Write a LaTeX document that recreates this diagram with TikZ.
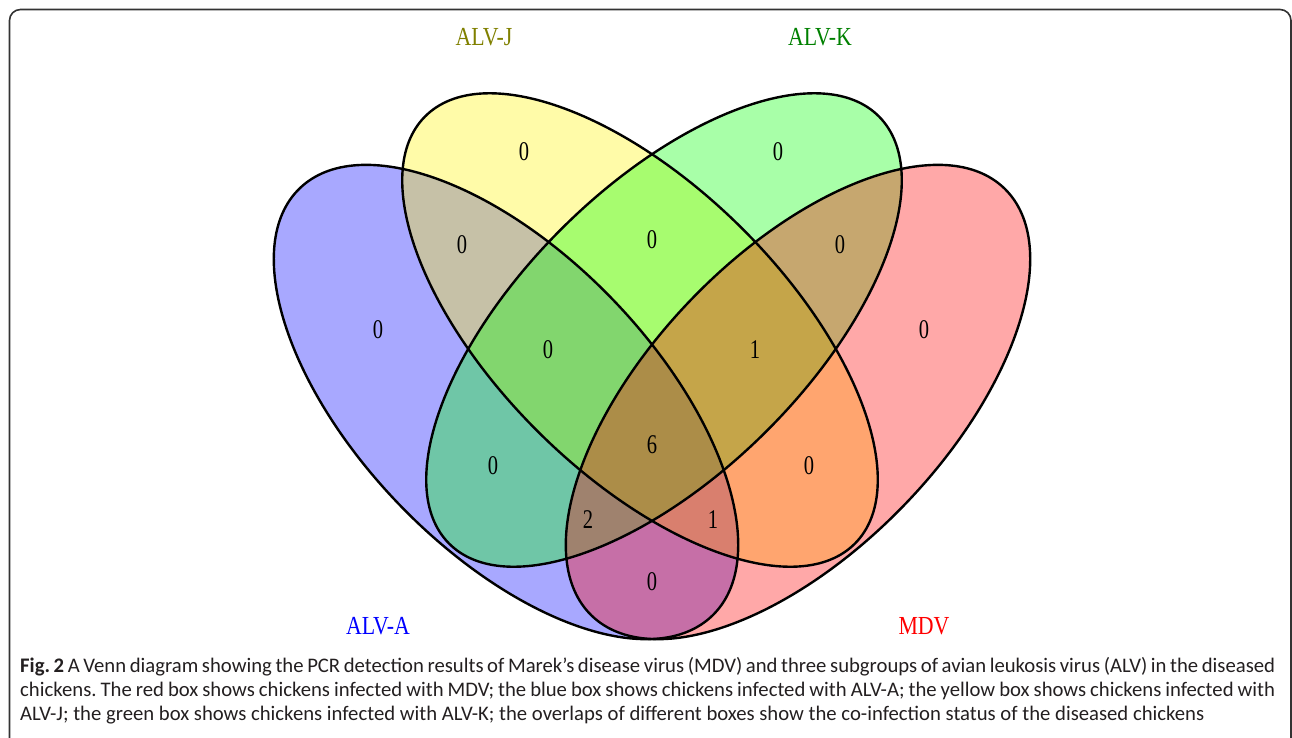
\documentclass[tikz,border=0pt]{standalone}
\usepackage{fontspec}
\setmainfont{Liberation Serif}
\newfontfamily\capfont{Carlito}
\definecolor{capink}{RGB}{35,31,32}
\definecolor{olivelab}{RGB}{128,128,0}
\definecolor{greenlab}{RGB}{0,128,0}
\tikzset{
  setfill/.style={fill opacity=0.34, draw=none},
  setline/.style={draw=black, line width=2.4pt, fill=none},
  num/.style={font=\fontsize{27}{27}\selectfont, inner sep=0pt, xscale=0.76},
  setlabel/.style={font=\fontsize{26}{26}\selectfont, inner sep=0pt, xscale=0.84},
  capline/.style={anchor=base west, inner sep=0pt, font=\capfont\fontsize{20.7}{24}\selectfont, text=capink},
}
\frenchspacing
\begin{document}
\begin{tikzpicture}[x=1pt,y=-1pt]
\useasboundingbox (0,0) rectangle (1292,737);
\begin{scope}
\clip (0,0) rectangle (1292,737);
\draw[line width=1.6pt, draw=black!80, rounded corners=11pt] (9.5,9.5) rectangle (1291,790);
\end{scope}
% fills
\fill[setfill, fill=blue, rotate around={-46:(506,402)}] (506,402) ellipse [x radius=297pt, y radius=148pt];
\fill[setfill, fill=yellow, rotate around={-44.8:(640,330)}] (640,330) ellipse [x radius=303pt, y radius=144pt];
\fill[setfill, fill=green, rotate around={44.8:(664,330)}] (664,330) ellipse [x radius=303pt, y radius=144pt];
\fill[setfill, fill=red, rotate around={46:(798,402)}] (798,402) ellipse [x radius=297pt, y radius=148pt];
% outlines
\draw[setline, rotate around={-46:(506,402)}] (506,402) ellipse [x radius=297pt, y radius=148pt];
\draw[setline, rotate around={-44.8:(640,330)}] (640,330) ellipse [x radius=303pt, y radius=144pt];
\draw[setline, rotate around={44.8:(664,330)}] (664,330) ellipse [x radius=303pt, y radius=144pt];
\draw[setline, rotate around={46:(798,402)}] (798,402) ellipse [x radius=297pt, y radius=148pt];
% set labels
\node[setlabel, text=olivelab] (lj) at (484,37) {ALV-J};
\node[setlabel, text=greenlab] (lk) at (820,37) {ALV-K};
\node[setlabel, text=blue] (la) at (378,626) {ALV-A};
\node[setlabel, text=red] (lm) at (924,626) {MDV};
% counts
\node[num] (n1) at (524,152) {0};
\node[num] (n2) at (778,152) {0};
\node[num] (n3) at (462,245) {0};
\node[num] (n4) at (652,240) {0};
\node[num] (n5) at (840,245) {0};
\node[num] (n6) at (378,330) {0};
\node[num] (n7) at (924,330) {0};
\node[num] (n8) at (548,350) {0};
\node[num] (n9) at (755,350) {1};
\node[num] (n10) at (652,445) {6};
\node[num] (n11) at (493,466) {0};
\node[num] (n12) at (809,466) {0};
\node[num] (n13) at (588,520) {2};
\node[num] (n14) at (713,520) {1};
\node[num] (n15) at (652,582) {0};
% caption
\node[capline] (c1) at (20,672) {\makebox[1255pt][s]{\textbf{Fig. 2} A Venn diagram showing the PCR detection results of Marek’s disease virus (MDV) and three subgroups of avian leukosis virus (ALV) in the diseased}};
\node[capline] (c2) at (20,696) {\makebox[1255pt][s]{chickens. The red box shows chickens infected with MDV; the blue box shows chickens infected with ALV-A; the yellow box shows chickens infected with}};
\node[capline] (c3) at (20,720) {ALV-J; the green box shows chickens infected with ALV-K; the overlaps of different boxes show the co-infection status of the diseased chickens};
\end{tikzpicture}
\end{document}
